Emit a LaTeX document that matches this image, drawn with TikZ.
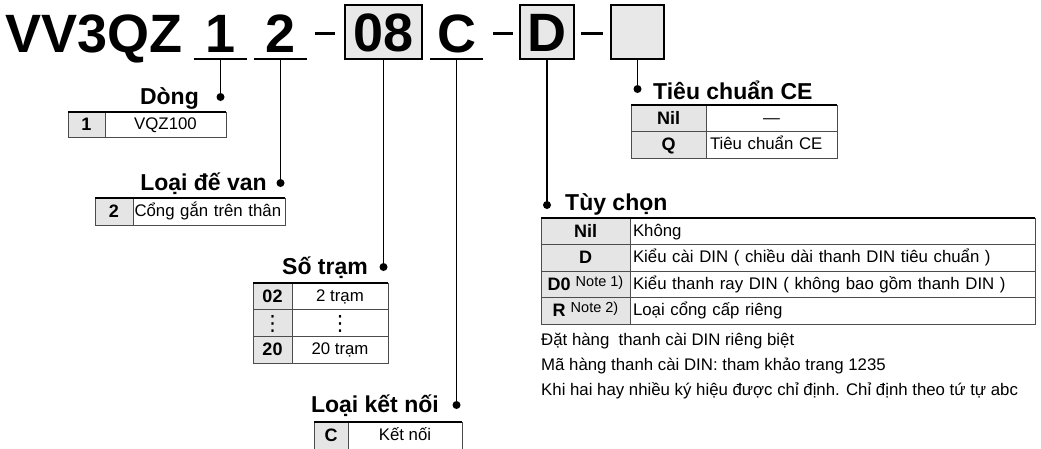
\documentclass[tikz,border=0pt]{standalone}
\usepackage{fontspec}
\setmainfont{Liberation Sans}
\newfontfamily\dejavu{DejaVu Sans}
\usetikzlibrary{positioning}

\begin{document}
\begin{tikzpicture}[x=1pt,y=-1pt,
  ttl/.style={font=\bfseries\fontsize{54}{54}\selectfont,inner sep=0pt},
  digit/.style={ttl,minimum width=53pt,text depth=7pt,anchor=base},
  sel/.style={ttl,draw,line width=1.8pt,fill=black!9,minimum height=54pt,anchor=north west,text height=39pt,text depth=0pt,outer sep=0pt},
  head/.style={font=\bfseries\fontsize{23}{23}\selectfont,inner sep=0pt},
  dot/.style={circle,fill,inner sep=0pt,minimum size=8pt},
  lead/.style={line width=1.6pt},
  dashmark/.style={line width=3pt},
  keycell/.style={draw=black!70,line width=0.8pt,fill=black!10,inner sep=0pt,outer sep=0pt,anchor=north west,font=\bfseries\fontsize{18}{18}\selectfont,text height=14pt,text depth=2pt},
  desccell/.style={draw=black!70,line width=0.8pt,inner sep=0pt,outer sep=0pt,anchor=north west,font=\fontsize{16.8}{16.8}\selectfont,text height=13pt,text depth=3pt},
  leftcell/.style={desccell,align=left,inner xsep=3pt},
  topline/.style={line width=2.2pt},
  vdot/.style={font=\dejavu\fontsize{21}{21}\selectfont,text height=15pt,text depth=0pt},
  note/.style={font=\fontsize{16.8}{16.8}\selectfont,inner sep=0pt,anchor=base west}]
  \useasboundingbox (0,0) rectangle (1041,448);

  % model code
  \node[ttl,anchor=base west] (series) at (5,52) {VV3QZ};
  \node[digit] (one) at (220.5,52) {1};
  \node[digit] (two) at (280.5,52) {2};
  \node[sel,minimum width=77pt] (sta) at (345,5) {08};
  \node[digit] (conn) at (456.5,52) {C};
  \node[sel,minimum width=54pt] (opt) at (520,5) {D};
  \node[sel,minimum width=53pt] (ce) at (611,5) {};
  \draw[dashmark] (315,33) -- (335,33);
  \draw[dashmark] (493,33) -- (513,33);
  \draw[dashmark] (581,33) -- (603,33);
  \draw[lead] (one.south west) -- (one.south east);
  \draw[lead] (two.south west) -- (two.south east);
  \draw[lead] (conn.south west) -- (conn.south east);

  % lead lines
  \node[dot] (pDong) at (220.5,97) {};
  \node[dot] (pDe) at (280.5,183) {};
  \node[dot] (pSo) at (383.5,267) {};
  \node[dot] (pKet) at (456.5,405) {};
  \node[dot] (pTuy) at (547,205) {};
  \node[dot] (pCE) at (637.5,89) {};
  \draw[lead] (one.south) -- (pDong.center);
  \draw[lead] (two.south) -- (pDe.center);
  \draw[lead] (sta.south) -- (pSo.center);
  \draw[lead] (conn.south) -- (pKet.center);
  \draw[lead] (opt.south) -- (pTuy.center);
  \draw[lead] (ce.south) -- (pCE.center);

  % headings
  \node[head,anchor=base east] (hDong) at (199,104) {Dòng};
  \node[head,anchor=base east] (hDe) at (267,190) {Loại đế van};
  \node[head,anchor=base east] (hSo) at (368,274) {Số trạm};
  \node[head,anchor=base east] (hKet) at (439,412) {Loại kết nối};
  \node[head,anchor=base west] (hTuy) at (565,210) {Tùy chọn};
  \node[head,anchor=base west] (hCE) at (653,99) {Tiêu chuẩn CE};

  % Dòng
  \node[keycell,minimum width=37pt,minimum height=25pt] (k1) at (68,112) {1};
  \node[desccell,minimum width=121pt,minimum height=25pt] (d1) at (k1.north east) {VQZ100};
  \draw[topline] (k1.north west) -- (d1.north east);

  % Loại đế van
  \node[keycell,minimum width=38pt,minimum height=27pt] (k2) at (95,198) {2};
  \node[leftcell,inner xsep=1.5pt,text width=149pt,minimum height=27pt] (d2) at (k2.north east) {Cổng gắn trên thân};
  \draw[topline] (k2.north west) -- (d2.north east);

  % Số trạm
  \node[keycell,minimum width=39pt,minimum height=26.7pt] (k3a) at (253,283) {02};
  \node[desccell,minimum width=96pt,minimum height=26.7pt] (d3a) at (k3a.north east) {2 trạm};
  \node[keycell,vdot,minimum width=39pt,minimum height=26.7pt] (k3b) at (k3a.south west) {⋮};
  \node[desccell,vdot,minimum width=96pt,minimum height=26.7pt] (d3b) at (k3b.north east) {⋮};
  \node[keycell,minimum width=39pt,minimum height=26.7pt] (k3c) at (k3b.south west) {20};
  \node[desccell,minimum width=96pt,minimum height=26.7pt] (d3c) at (k3c.north east) {20 trạm};
  \draw[topline] (k3a.north west) -- (d3a.north east);

  % Loại kết nối
  \node[keycell,minimum width=34pt,minimum height=27pt] (k4) at (314,422) {C};
  \node[desccell,minimum width=114pt,minimum height=27pt] (d4) at (k4.north east) {Kết nối};
  \draw[topline] (k4.north west) -- (d4.north east);

  % Tiêu chuẩn CE
  \node[keycell,minimum width=75pt,minimum height=26.5pt] (k5a) at (631,105) {Nil};
  \node[desccell,minimum width=131pt,minimum height=26.5pt] (d5a) at (k5a.north east) {—};
  \node[keycell,minimum width=75pt,minimum height=26.5pt] (k5b) at (k5a.south west) {Q};
  \node[leftcell,inner xsep=4pt,text width=123pt,minimum height=26.5pt] (d5b) at (k5b.north east) {Tiêu chuẩn CE};
  \draw[topline] (k5a.north west) -- (d5a.north east);

  % Tùy chọn
  \node[keycell,minimum width=89pt,minimum height=26.5pt] (k6a) at (541,218) {Nil};
  \node[leftcell,text width=399pt,minimum height=26.5pt] (d6a) at (k6a.north east) {Không};
  \node[keycell,minimum width=89pt,minimum height=26.5pt] (k6b) at (k6a.south west) {D};
  \node[leftcell,text width=399pt,minimum height=26.5pt] (d6b) at (k6b.north east) {Kiểu cài DIN ( chiều dài thanh DIN tiêu chuẩn )};
  \node[keycell,minimum width=89pt,minimum height=26.5pt] (k6c) at (k6b.south west) {D0\ \raisebox{4pt}{\fontsize{14.5}{14.5}\mdseries\selectfont Note 1)}};
  \node[leftcell,text width=399pt,minimum height=26.5pt] (d6c) at (k6c.north east) {Kiểu thanh ray DIN ( không bao gồm thanh DIN )};
  \node[keycell,minimum width=89pt,minimum height=26.5pt] (k6d) at (k6c.south west) {R\ \raisebox{4pt}{\fontsize{14.5}{14.5}\mdseries\selectfont Note 2)}};
  \node[leftcell,text width=399pt,minimum height=26.5pt] (d6d) at (k6d.north east) {Loại cổng cấp riêng};
  \draw[topline] (k6a.north west) -- (d6a.north east);

  % notes
  \node[note] (n1) at (541,345) {Đặt hàng\ \ thanh cài DIN riêng biệt};
  \node[note] (n2) at (541,370) {Mã hàng thanh cài DIN: tham khảo trang 1235};
  \node[note] (n3) at (541,395) {Khi hai hay nhiều ký hiệu được chỉ định. Chỉ định theo tứ tự abc};
\end{tikzpicture}
\end{document}
